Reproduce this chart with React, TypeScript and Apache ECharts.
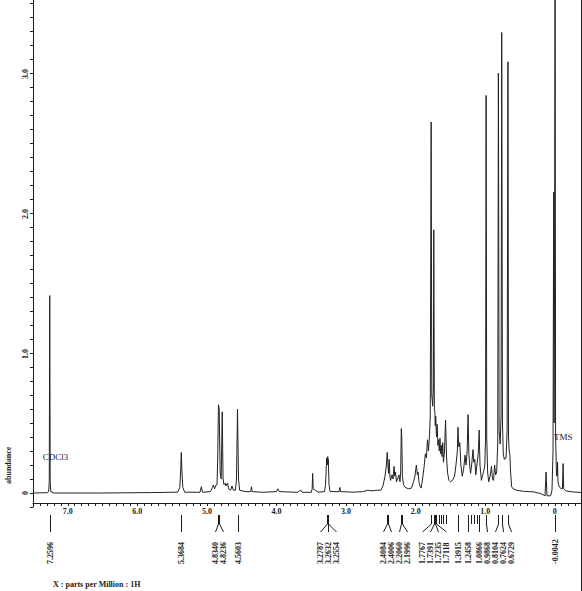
import { useEffect, useRef } from "react";
import * as echarts from "echarts";

// 1H NMR spectrum: [ppm, abundance]
const spectrum: [number, number][] = [
  [7.5, 0.0], [7.3, 0.002], [7.275, 0.01], [7.266, 0.08], [7.2596, 1.41], [7.253, 0.08], [7.244, 0.01],
  [7.2, 0.0], [6.5, 0.0], [5.8, 0.003], [5.42, 0.006], [5.39, 0.04], [5.378, 0.15], [5.3684, 0.29],
  [5.359, 0.15], [5.347, 0.04], [5.32, 0.006], [5.1, 0.005], [5.08, 0.045], [5.065, 0.005],
  [4.95, 0.01], [4.92, 0.04], [4.91, 0.057], [4.89, 0.03], [4.87, 0.057], [4.855, 0.06],
  [4.845, 0.25], [4.834, 0.63], [4.824, 0.6], [4.81, 0.15], [4.795, 0.1], [4.78, 0.58],
  [4.768, 0.1], [4.755, 0.06], [4.74, 0.07], [4.725, 0.05], [4.715, 0.065], [4.7, 0.07],
  [4.69, 0.03], [4.66, 0.02], [4.64, 0.05], [4.62, 0.02], [4.59, 0.02], [4.575, 0.1],
  [4.5603, 0.6], [4.546, 0.1], [4.53, 0.02], [4.45, 0.01], [4.37, 0.01], [4.36, 0.045],
  [4.35, 0.01], [4.2, 0.005], [4.0, 0.01], [3.98, 0.03], [3.96, 0.01], [3.7, 0.005],
  [3.65, 0.02], [3.63, 0.005], [3.5, 0.005], [3.487, 0.03], [3.48, 0.14], [3.473, 0.03],
  [3.4, 0.006], [3.31, 0.01], [3.295, 0.06], [3.2787, 0.25], [3.271, 0.2], [3.2632, 0.26],
  [3.259, 0.21], [3.2554, 0.24], [3.245, 0.06], [3.23, 0.01], [3.1, 0.01], [3.09, 0.04],
  [3.08, 0.01], [2.9, 0.006], [2.75, 0.01], [2.69, 0.02], [2.62, 0.015], [2.56, 0.02],
  [2.5, 0.02], [2.47, 0.05], [2.44, 0.12], [2.42, 0.2], [2.4084, 0.29], [2.4006, 0.22],
  [2.39, 0.14], [2.38, 0.24], [2.37, 0.12], [2.36, 0.09], [2.34, 0.13], [2.325, 0.1],
  [2.31, 0.19], [2.3, 0.12], [2.29, 0.15], [2.275, 0.08], [2.26, 0.1], [2.24, 0.13],
  [2.225, 0.08], [2.215, 0.15], [2.206, 0.46], [2.1996, 0.4], [2.19, 0.12], [2.175, 0.06],
  [2.15, 0.04], [2.1, 0.03], [2.06, 0.035], [2.03, 0.08], [2.01, 0.12], [1.99, 0.2],
  [1.975, 0.13], [1.965, 0.15], [1.95, 0.07], [1.93, 0.04], [1.92, 0.035], [1.9, 0.1],
  [1.88, 0.18], [1.86, 0.28], [1.845, 0.25], [1.83, 0.38], [1.815, 0.3], [1.8, 0.42],
  [1.79, 0.55], [1.7767, 2.65], [1.768, 0.7], [1.755, 0.62], [1.745, 0.75], [1.7391, 1.88],
  [1.731, 0.6], [1.7235, 0.58], [1.718, 0.48], [1.7118, 0.55], [1.7, 0.4], [1.69, 0.49],
  [1.68, 0.34], [1.67, 0.38], [1.66, 0.3], [1.65, 0.39], [1.64, 0.28], [1.63, 0.34],
  [1.62, 0.26], [1.61, 0.36], [1.6, 0.22], [1.585, 0.3], [1.57, 0.52], [1.555, 0.25],
  [1.54, 0.14], [1.52, 0.09], [1.5, 0.08], [1.48, 0.085], [1.46, 0.1], [1.44, 0.12],
  [1.42, 0.2], [1.4, 0.3], [1.3915, 0.47], [1.38, 0.33], [1.365, 0.36], [1.35, 0.2],
  [1.33, 0.12], [1.31, 0.17], [1.29, 0.27], [1.275, 0.2], [1.26, 0.3], [1.2458, 0.56],
  [1.235, 0.28], [1.22, 0.18], [1.21, 0.14], [1.195, 0.2], [1.175, 0.31], [1.165, 0.22],
  [1.15, 0.24], [1.135, 0.13], [1.12, 0.2], [1.1, 0.28], [1.0866, 0.45], [1.075, 0.2],
  [1.055, 0.09], [1.04, 0.12], [1.02, 0.16], [1.005, 0.2], [0.995, 0.4], [0.9868, 2.84],
  [0.978, 0.4], [0.965, 0.15], [0.95, 0.08], [0.93, 0.12], [0.91, 0.19], [0.895, 0.1],
  [0.88, 0.09], [0.865, 0.2], [0.85, 0.13], [0.835, 0.15], [0.82, 0.35], [0.8104, 3.0],
  [0.8, 0.45], [0.785, 0.35], [0.772, 0.55], [0.7624, 3.29], [0.752, 0.5], [0.74, 0.28],
  [0.725, 0.24], [0.7, 0.25], [0.685, 0.45], [0.6729, 3.08], [0.665, 0.4], [0.655, 0.3],
  [0.645, 0.27], [0.635, 0.15], [0.62, 0.045], [0.6, 0.03], [0.55, 0.02], [0.45, 0.012],
  [0.3, 0.008], [0.2, -0.005], [0.14, -0.02], [0.125, 0.15], [0.112, -0.02], [0.06, -0.02],
  [0.04, 0.02], [0.025, 0.3], [0.016, 2.15], [0.01, 0.5], [0.003, 1.5], [-0.0042, 4.0],
  [-0.012, 0.4], [-0.025, 0.12], [-0.035, 0.14], [-0.04, 0.22], [-0.046, 0.08], [-0.06, 0.05],
  [-0.09, 0.03], [-0.11, 0.03], [-0.12, 0.21], [-0.128, 0.03], [-0.16, 0.015], [-0.25, 0.008],
  [-0.4, 0.003],
];

// peak-pick labels (ppm), highest ppm first
const peakLabels: string[] = [
  "7.2596", "5.3684", "4.8340", "4.8236", "4.5603", "3.2787", "3.2632", "3.2554",
  "2.4084", "2.4006", "2.2060", "2.1996", "1.7767", "1.7391", "1.7235", "1.7118",
  "1.3915", "1.2458", "1.0866", "0.9868", "0.8104", "0.7624", "0.6729", "-0.0042",
];
// picked peaks drawn without a label
const unlabeledPicks: number[] = [1.66, 1.63, 1.6, 1.57, 1.2, 1.16, 1.12];
// abundance tick labels
const yTickLabels: number[] = [0, 1, 2, 3];

const solventLabel = { text: "CDCl3", ppm: 7.2596, y: 0.26 };
const refLabel = { text: "TMS", ppm: -0.0042, y: 0.4 };

const FONT = "'Liberation Serif', 'DejaVu Serif', serif";
const INK = "#1c1c1c";

const fmt = (v: number) => {
  const r = Math.round(v);
  if (Math.abs(v - r) > 1e-6) return "";
  return r === 0 ? "0" : r.toFixed(1);
};

function spread(xs: number[], gap: number): number[] {
  let clusters = xs.map((x, i) => ({ start: i, end: i, center: x }));
  let changed = true;
  while (changed) {
    changed = false;
    for (let i = 0; i < clusters.length - 1; i++) {
      const a = clusters[i];
      const b = clusters[i + 1];
      const aN = a.end - a.start + 1;
      const bN = b.end - b.start + 1;
      const aRight = a.center + ((aN - 1) * gap) / 2;
      const bLeft = b.center - ((bN - 1) * gap) / 2;
      if (bLeft - aRight < gap) {
        let sum = 0;
        for (let k = a.start; k <= b.end; k++) sum += xs[k];
        clusters.splice(i, 2, { start: a.start, end: b.end, center: sum / (b.end - a.start + 1) });
        changed = true;
        break;
      }
    }
  }
  const out: number[] = [];
  clusters.forEach((c) => {
    const n = c.end - c.start + 1;
    for (let k = 0; k < n; k++) out.push(c.center + (k - (n - 1) / 2) * gap);
  });
  return out;
}

export default function App() {
  const ref = useRef<HTMLDivElement>(null);
  useEffect(() => {
    const chart = echarts.init(ref.current!, null, { renderer: "svg" });
    chart.setOption({
      animation: false,
      grid: { left: 33, top: -11, width: 549.6, height: 518, outerBoundsMode: "none", containLabel: false },
      xAxis: {
        type: "value",
        inverse: true,
        min: -0.4,
        max: 7.5,
        interval: 0.1,
        offset: -4,
        axisLine: { show: true, onZero: false, lineStyle: { color: INK, width: 1 } },
        axisTick: { show: true, length: 3, lineStyle: { color: INK } },
        axisLabel: { formatter: fmt, fontSize: 8, fontWeight: "bold", fontFamily: FONT, color: INK, margin: 4 },
        splitLine: { show: false },
      },
      yAxis: {
        type: "value",
        min: -0.1,
        max: 3.6,
        interval: 0.1,
        axisLine: { show: true, onZero: false, lineStyle: { color: INK, width: 1 } },
        axisTick: { show: true, length: 3, lineStyle: { color: INK } },
        axisLabel: { show: false },
        splitLine: { show: false },
      },
      series: [
        {
          type: "line",
          data: spectrum,
          symbol: "none",
          showSymbol: false,
          clip: true,
          silent: true,
          lineStyle: { color: "#222", width: 1 },
        },
      ],
    });

    const px = (v: number) => chart.convertToPixel({ xAxisIndex: 0 }, v) as number;
    const py = (v: number) => chart.convertToPixel({ yAxisIndex: 0 }, v) as number;

    const peakX = peakLabels.map((s) => px(parseFloat(s)));
    const labelX = spread(peakX, 8);
    const g: any[] = [];
    const lineStyle = { stroke: INK, lineWidth: 1 };
    const yTop = 515, yBend = 524, yLow = 532;
    peakLabels.forEach((s, i) => {
      const x0 = Math.round(peakX[i]) + 0.5;
      const x1 = Math.round(labelX[i]) + 0.5;
      g.push({ type: "line", shape: { x1: x0, y1: yTop, x2: x0, y2: yBend }, style: lineStyle, silent: true });
      g.push({ type: "line", shape: { x1: x0, y1: yBend, x2: x1, y2: yLow }, style: lineStyle, silent: true });
      g.push({
        type: "text",
        x: x1,
        y: 564,
        rotation: Math.PI / 2,
        style: { text: s, fontSize: 8, fontWeight: "bold", fontFamily: FONT, fill: INK, align: "left", verticalAlign: "middle" },
        silent: true,
      });
    });
    unlabeledPicks.forEach((p) => {
      const x0 = Math.round(px(p)) + 0.5;
      g.push({ type: "line", shape: { x1: x0, y1: yTop, x2: x0, y2: yBend }, style: lineStyle, silent: true });
    });
    yTickLabels.forEach((v) => {
      const label = fmt(v);
      g.push({
        type: "text",
        x: 25,
        y: py(v) + label.length * 2,
        rotation: Math.PI / 2,
        originX: 0,
        originY: 0,
        style: { text: label, fontSize: 8, fontWeight: "bold", fontFamily: FONT, fill: INK, align: "left", verticalAlign: "middle" },
        silent: true,
      });
    });
    g.push({
      type: "text",
      x: px(solventLabel.ppm) - 7,
      y: py(solventLabel.y),
      style: { text: solventLabel.text, fontSize: 9, fontFamily: FONT, fill: "#1a1a3a", align: "left", verticalAlign: "middle" },
      silent: true,
    });
    g.push({
      type: "text",
      x: px(refLabel.ppm) - 1,
      y: py(refLabel.y),
      style: { text: refLabel.text, fontSize: 9, fontFamily: FONT, fill: "#1a1a3a", align: "left", verticalAlign: "middle" },
      silent: true,
    });
    g.push({
      type: "text",
      x: 8,
      y: 484,
      rotation: Math.PI / 2,
      originX: 0,
      originY: 0,
      style: { text: "abundance", fontSize: 8, fontWeight: "bold", fontFamily: FONT, fill: INK, align: "left", verticalAlign: "middle" },
      silent: true,
    });
    g.push({
      type: "text",
      x: 53,
      y: 584,
      style: { text: "X : parts per Million : 1H", fontSize: 8, fontWeight: "bold", fontFamily: FONT, fill: INK, align: "left", verticalAlign: "middle" },
      silent: true,
    });
    g.push({ type: "line", shape: { x1: 581.5, y1: 0, x2: 581.5, y2: 591 }, style: lineStyle, silent: true });
    chart.setOption({ graphic: g });
    return () => chart.dispose();
  }, []);
  return <div ref={ref} style={{ position: "absolute", left: 0, top: 0, width: 582, height: 591 }} />;
}
